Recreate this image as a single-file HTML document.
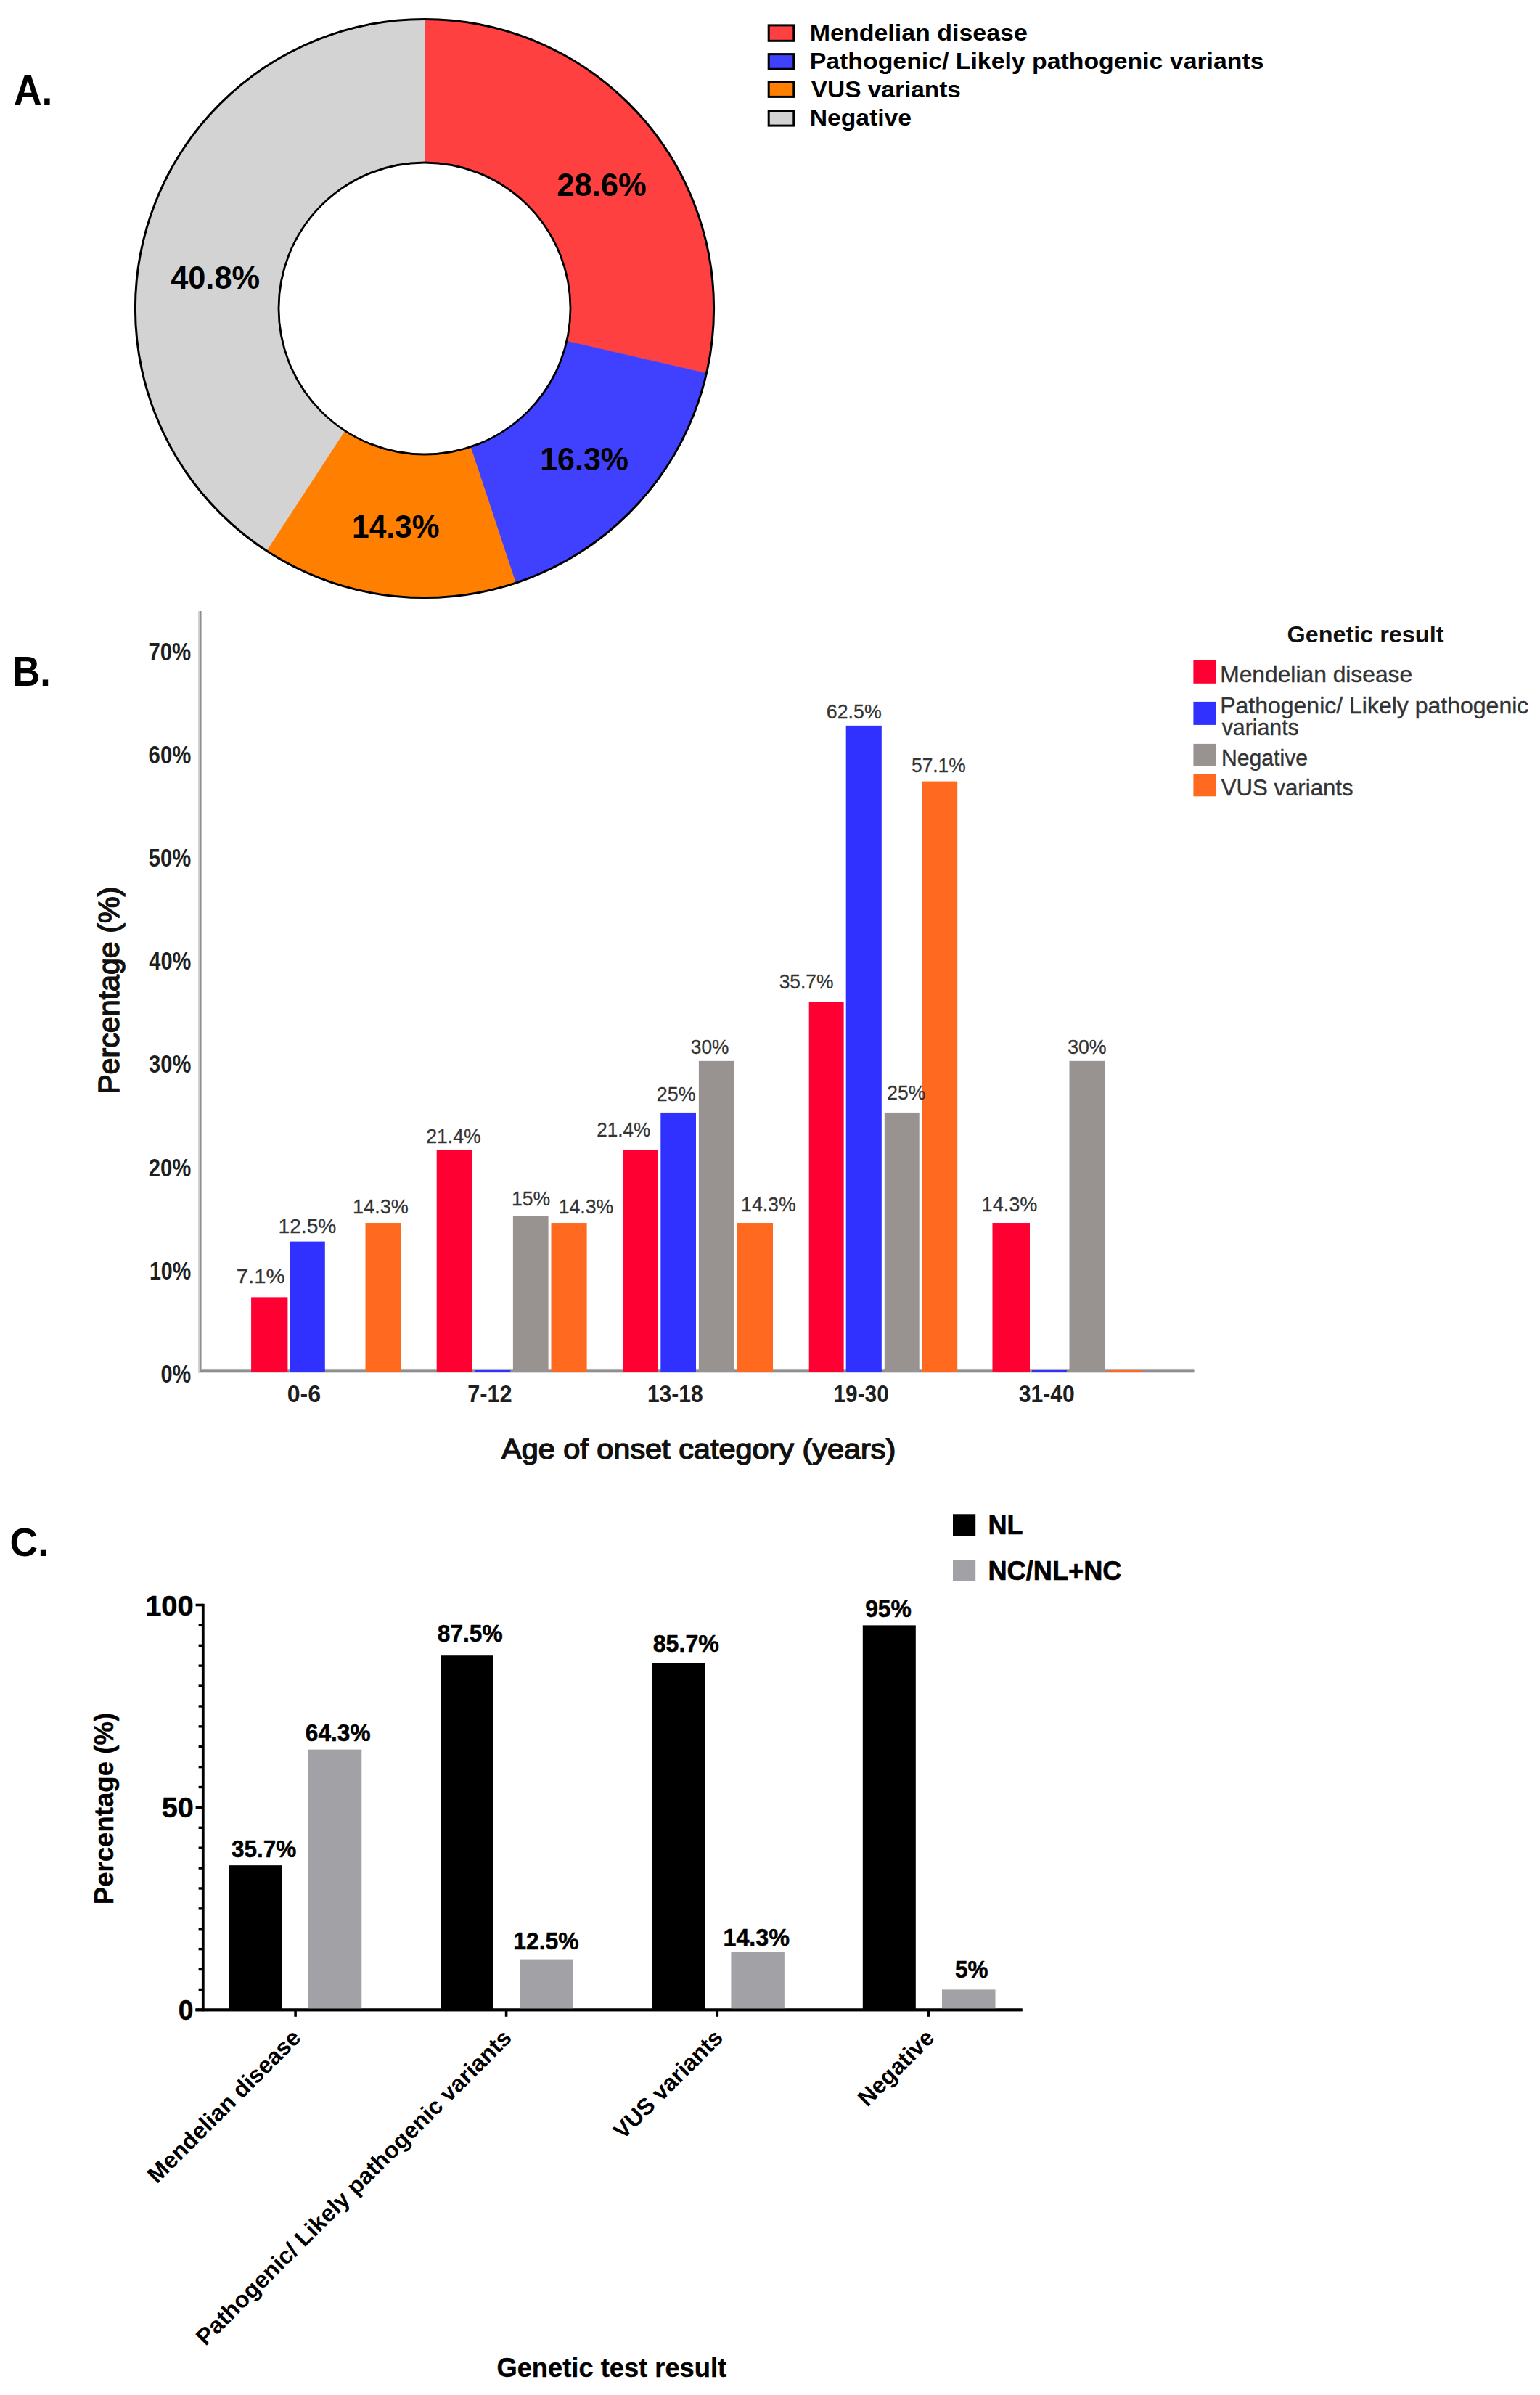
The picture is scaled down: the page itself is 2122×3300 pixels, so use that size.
<!DOCTYPE html>
<html><head><meta charset="utf-8"><title>Figure</title>
<style>
html,body{margin:0;padding:0;background:#fff;}
svg{display:block;font-family:"Liberation Sans",sans-serif;}
</style></head><body>
<svg width="2122" height="3300" viewBox="0 0 2122 3300">
<rect width="2122" height="3300" fill="#fff"/>
<path d="M585.00,26.40 A398.6,398.6 0 0 1 973.45,514.39 L780.88,470.08 A201.0,201.0 0 0 0 585.00,224.00 Z" fill="#FF4040" stroke="#FF4040" stroke-width="0.6"/>
<path d="M973.45,514.39 A398.6,398.6 0 0 1 710.55,803.31 L648.31,615.77 A201.0,201.0 0 0 0 780.88,470.08 Z" fill="#4040FF" stroke="#4040FF" stroke-width="0.6"/>
<path d="M710.55,803.31 A398.6,398.6 0 0 1 367.21,758.84 L475.17,593.34 A201.0,201.0 0 0 0 648.31,615.77 Z" fill="#FF8000" stroke="#FF8000" stroke-width="0.6"/>
<path d="M367.21,758.84 A398.6,398.6 0 0 1 585.00,26.40 L585.00,224.00 A201.0,201.0 0 0 0 475.17,593.34 Z" fill="#D3D3D3" stroke="#D3D3D3" stroke-width="0.6"/>
<circle cx="585.0" cy="425.0" r="398.6" fill="none" stroke="#000" stroke-width="3"/>
<circle cx="585.0" cy="425.0" r="201.0" fill="#fff" stroke="#000" stroke-width="2.8"/>
<text transform="translate(767.28,269.60) scale(0.9984,1)" font-size="43.6" font-weight="700" fill="#000">28.6%</text>
<text transform="translate(744.21,648.30) scale(0.9859,1)" font-size="43.6" font-weight="700" fill="#000">16.3%</text>
<text transform="translate(485.04,741.00) scale(0.9750,1)" font-size="43.6" font-weight="700" fill="#000">14.3%</text>
<text transform="translate(235.15,398.40) scale(0.9946,1)" font-size="43.6" font-weight="700" fill="#000">40.8%</text>
<rect x="1059.20" y="34.90" width="34.60" height="21.40" fill="#FF4040" stroke="#000" stroke-width="3"/>
<rect x="1059.20" y="74.60" width="34.60" height="20.60" fill="#4040FF" stroke="#000" stroke-width="3"/>
<rect x="1059.20" y="112.80" width="34.60" height="20.60" fill="#FF8000" stroke="#000" stroke-width="3"/>
<rect x="1059.20" y="152.60" width="34.60" height="20.50" fill="#D3D3D3" stroke="#000" stroke-width="3"/>
<text transform="translate(1115.71,56.40) scale(1.0719,1)" font-size="31.7" font-weight="700" fill="#000">Mendelian disease</text>
<text transform="translate(1115.72,95.30) scale(1.0676,1)" font-size="31.7" font-weight="700" fill="#000">Pathogenic/ Likely pathogenic variants</text>
<text transform="translate(1117.75,134.30) scale(1.0546,1)" font-size="31.7" font-weight="700" fill="#000">VUS variants</text>
<text transform="translate(1115.73,173.20) scale(1.0625,1)" font-size="31.7" font-weight="700" fill="#000">Negative</text>
<text transform="translate(18.96,143.60) scale(0.9426,1)" font-size="56.7" font-weight="700" fill="#000">A.</text>
<text transform="translate(17.47,945.00) scale(0.9009,1)" font-size="58" font-weight="700" fill="#000">B.</text>
<text transform="translate(13.46,2143.50) scale(0.9564,1)" font-size="56" font-weight="700" fill="#000">C.</text>
<rect x="273.10" y="842.00" width="2.00" height="1049.70" fill="#cdcdcd"/>
<rect x="275.10" y="842.00" width="2.10" height="1048.00" fill="#8e8e8e"/>
<rect x="277.20" y="842.00" width="1.80" height="1046.00" fill="#b8b8b8"/>
<rect x="277.20" y="1885.90" width="1368.30" height="2.10" fill="#b8b8b8"/>
<rect x="275.10" y="1888.00" width="1370.40" height="2.00" fill="#8e8e8e"/>
<rect x="273.10" y="1890.00" width="1372.40" height="1.70" fill="#cdcdcd"/>
<rect x="346.10" y="1787.37" width="50.30" height="103.23" fill="#FF0033"/>
<rect x="399.10" y="1710.61" width="48.70" height="179.99" fill="#3030FF"/>
<rect x="503.50" y="1685.03" width="49.50" height="205.57" fill="#FF6A20"/>
<rect x="601.70" y="1584.10" width="49.10" height="306.50" fill="#FF0033"/>
<rect x="654.70" y="1887.20" width="48.70" height="3.40" fill="#3030FF"/>
<rect x="706.90" y="1675.08" width="48.70" height="215.52" fill="#989291"/>
<rect x="759.50" y="1685.03" width="49.10" height="205.57" fill="#FF6A20"/>
<rect x="858.40" y="1584.10" width="48.00" height="306.50" fill="#FF0033"/>
<rect x="910.30" y="1532.92" width="48.70" height="357.67" fill="#3030FF"/>
<rect x="962.90" y="1461.85" width="48.70" height="428.75" fill="#989291"/>
<rect x="1015.50" y="1685.03" width="49.50" height="205.57" fill="#FF6A20"/>
<rect x="1114.70" y="1380.82" width="47.90" height="509.78" fill="#FF0033"/>
<rect x="1165.70" y="999.86" width="49.10" height="890.74" fill="#3030FF"/>
<rect x="1218.80" y="1532.92" width="47.90" height="357.67" fill="#989291"/>
<rect x="1270.10" y="1076.62" width="49.10" height="813.98" fill="#FF6A20"/>
<rect x="1367.50" y="1685.03" width="51.50" height="205.57" fill="#FF0033"/>
<rect x="1422.00" y="1887.20" width="48.00" height="3.40" fill="#3030FF"/>
<rect x="1473.50" y="1461.85" width="49.40" height="428.75" fill="#989291"/>
<rect x="1525.50" y="1887.20" width="47.20" height="3.40" fill="#FF6A20"/>
<text transform="translate(204.45,909.50) scale(0.8398,1)" font-size="35" font-weight="700" fill="#1f1f1f">70%</text>
<text transform="translate(204.60,1051.70) scale(0.8376,1)" font-size="35" font-weight="700" fill="#1f1f1f">60%</text>
<text transform="translate(204.82,1193.90) scale(0.8344,1)" font-size="35" font-weight="700" fill="#1f1f1f">50%</text>
<text transform="translate(205.27,1336.10) scale(0.8280,1)" font-size="35" font-weight="700" fill="#1f1f1f">40%</text>
<text transform="translate(205.05,1478.30) scale(0.8312,1)" font-size="35" font-weight="700" fill="#1f1f1f">30%</text>
<text transform="translate(204.68,1620.50) scale(0.8365,1)" font-size="35" font-weight="700" fill="#1f1f1f">20%</text>
<text transform="translate(205.91,1762.70) scale(0.8187,1)" font-size="35" font-weight="700" fill="#1f1f1f">10%</text>
<text transform="translate(221.54,1904.90) scale(0.8255,1)" font-size="35" font-weight="700" fill="#1f1f1f">0%</text>
<text transform="translate(164.30,1505.20) rotate(-90) translate(-2.65,0) scale(0.9925,1)" font-size="41.5" font-weight="400" fill="#111" stroke="#111" stroke-width="1.5" stroke-linejoin="round">Percentage (%)</text>
<text transform="translate(691.05,2010.10) scale(1.0487,1)" font-size="39.5" font-weight="400" fill="#111" stroke="#111" stroke-width="1.5" stroke-linejoin="round">Age of onset category (years)</text>
<text transform="translate(395.72,1932.30) scale(0.9446,1)" font-size="34" font-weight="700" fill="#1f1f1f">0-6</text>
<text transform="translate(644.19,1932.30) scale(0.9038,1)" font-size="34" font-weight="700" fill="#1f1f1f">7-12</text>
<text transform="translate(891.92,1932.30) scale(0.8829,1)" font-size="34" font-weight="700" fill="#1f1f1f">13-18</text>
<text transform="translate(1148.54,1932.30) scale(0.8770,1)" font-size="34" font-weight="700" fill="#1f1f1f">19-30</text>
<text transform="translate(1403.72,1931.50) scale(0.8877,1)" font-size="34" font-weight="700" fill="#1f1f1f">31-40</text>
<text transform="translate(325.68,1767.50) scale(1.0630,1)" font-size="27.6" font-weight="400" fill="#333" stroke="#333" stroke-width="0.3" stroke-linejoin="round">7.1%</text>
<text transform="translate(383.54,1699.00) scale(1.0202,1)" font-size="27.6" font-weight="400" fill="#333" stroke="#333" stroke-width="0.3" stroke-linejoin="round">12.5%</text>
<text transform="translate(486.12,1671.70) scale(0.9790,1)" font-size="27.6" font-weight="400" fill="#333" stroke="#333" stroke-width="0.3" stroke-linejoin="round">14.3%</text>
<text transform="translate(587.22,1574.70) scale(0.9649,1)" font-size="27.6" font-weight="400" fill="#333" stroke="#333" stroke-width="0.3" stroke-linejoin="round">21.4%</text>
<text transform="translate(705.06,1661.00) scale(0.9630,1)" font-size="27.6" font-weight="400" fill="#333" stroke="#333" stroke-width="0.3" stroke-linejoin="round">15%</text>
<text transform="translate(769.65,1671.70) scale(0.9644,1)" font-size="27.6" font-weight="400" fill="#333" stroke="#333" stroke-width="0.3" stroke-linejoin="round">14.3%</text>
<text transform="translate(822.25,1566.20) scale(0.9451,1)" font-size="27.6" font-weight="400" fill="#333" stroke="#333" stroke-width="0.3" stroke-linejoin="round">21.4%</text>
<text transform="translate(904.81,1517.00) scale(0.9731,1)" font-size="27.6" font-weight="400" fill="#333" stroke="#333" stroke-width="0.3" stroke-linejoin="round">25%</text>
<text transform="translate(951.86,1452.00) scale(0.9537,1)" font-size="27.6" font-weight="400" fill="#333" stroke="#333" stroke-width="0.3" stroke-linejoin="round">30%</text>
<text transform="translate(1021.05,1669.00) scale(0.9671,1)" font-size="27.6" font-weight="400" fill="#333" stroke="#333" stroke-width="0.3" stroke-linejoin="round">14.3%</text>
<text transform="translate(1073.66,1362.00) scale(0.9566,1)" font-size="27.6" font-weight="400" fill="#333" stroke="#333" stroke-width="0.3" stroke-linejoin="round">35.7%</text>
<text transform="translate(1138.81,989.90) scale(0.9701,1)" font-size="27.6" font-weight="400" fill="#333" stroke="#333" stroke-width="0.3" stroke-linejoin="round">62.5%</text>
<text transform="translate(1222.33,1515.20) scale(0.9580,1)" font-size="27.6" font-weight="400" fill="#333" stroke="#333" stroke-width="0.3" stroke-linejoin="round">25%</text>
<text transform="translate(1256.00,1063.90) scale(0.9548,1)" font-size="27.6" font-weight="400" fill="#333" stroke="#333" stroke-width="0.3" stroke-linejoin="round">57.1%</text>
<text transform="translate(1352.62,1668.80) scale(0.9804,1)" font-size="27.6" font-weight="400" fill="#333" stroke="#333" stroke-width="0.3" stroke-linejoin="round">14.3%</text>
<text transform="translate(1471.15,1452.00) scale(0.9687,1)" font-size="27.6" font-weight="400" fill="#333" stroke="#333" stroke-width="0.3" stroke-linejoin="round">30%</text>
<text transform="translate(1773.50,884.80) scale(1.0280,1)" font-size="31.5" font-weight="700" fill="#111">Genetic result</text>
<rect x="1644.40" y="909.90" width="31.00" height="31.90" fill="#FF0033"/>
<rect x="1644.40" y="966.90" width="31.00" height="32.00" fill="#3030FF"/>
<rect x="1644.40" y="1024.90" width="31.00" height="30.70" fill="#989291"/>
<rect x="1644.40" y="1066.30" width="31.00" height="31.00" fill="#FF6A20"/>
<text transform="translate(1681.18,940.20) scale(1.0057,1)" font-size="31.6" font-weight="400" fill="#333" stroke="#333" stroke-width="0.4" stroke-linejoin="round">Mendelian disease</text>
<text transform="translate(1681.16,982.60) scale(1.0127,1)" font-size="31.6" font-weight="400" fill="#333" stroke="#333" stroke-width="0.4" stroke-linejoin="round">Pathogenic/ Likely pathogenic</text>
<text transform="translate(1683.72,1013.20) scale(0.9580,1)" font-size="31.6" font-weight="400" fill="#333" stroke="#333" stroke-width="0.4" stroke-linejoin="round">variants</text>
<text transform="translate(1682.91,1054.90) scale(0.9552,1)" font-size="31.6" font-weight="400" fill="#333" stroke="#333" stroke-width="0.4" stroke-linejoin="round">Negative</text>
<text transform="translate(1682.64,1095.70) scale(0.9873,1)" font-size="31.6" font-weight="400" fill="#333" stroke="#333" stroke-width="0.4" stroke-linejoin="round">VUS variants</text>
<line x1="279.80" y1="2209.70" x2="279.80" y2="2771.20" stroke="#000" stroke-width="3.8"/>
<line x1="269.60" y1="2769.30" x2="1408.60" y2="2769.30" stroke="#000" stroke-width="3.8"/>
<line x1="269.60" y1="2769.30" x2="279.80" y2="2769.30" stroke="#000" stroke-width="3.6"/>
<line x1="273.60" y1="2741.41" x2="279.80" y2="2741.41" stroke="#000" stroke-width="3.4"/>
<line x1="273.60" y1="2713.52" x2="279.80" y2="2713.52" stroke="#000" stroke-width="3.4"/>
<line x1="273.60" y1="2685.63" x2="279.80" y2="2685.63" stroke="#000" stroke-width="3.4"/>
<line x1="273.60" y1="2657.74" x2="279.80" y2="2657.74" stroke="#000" stroke-width="3.4"/>
<line x1="273.60" y1="2629.85" x2="279.80" y2="2629.85" stroke="#000" stroke-width="3.4"/>
<line x1="273.60" y1="2601.96" x2="279.80" y2="2601.96" stroke="#000" stroke-width="3.4"/>
<line x1="273.60" y1="2574.07" x2="279.80" y2="2574.07" stroke="#000" stroke-width="3.4"/>
<line x1="273.60" y1="2546.18" x2="279.80" y2="2546.18" stroke="#000" stroke-width="3.4"/>
<line x1="273.60" y1="2518.29" x2="279.80" y2="2518.29" stroke="#000" stroke-width="3.4"/>
<line x1="269.60" y1="2490.40" x2="279.80" y2="2490.40" stroke="#000" stroke-width="3.6"/>
<line x1="273.60" y1="2462.51" x2="279.80" y2="2462.51" stroke="#000" stroke-width="3.4"/>
<line x1="273.60" y1="2434.62" x2="279.80" y2="2434.62" stroke="#000" stroke-width="3.4"/>
<line x1="273.60" y1="2406.73" x2="279.80" y2="2406.73" stroke="#000" stroke-width="3.4"/>
<line x1="273.60" y1="2378.84" x2="279.80" y2="2378.84" stroke="#000" stroke-width="3.4"/>
<line x1="273.60" y1="2350.95" x2="279.80" y2="2350.95" stroke="#000" stroke-width="3.4"/>
<line x1="273.60" y1="2323.06" x2="279.80" y2="2323.06" stroke="#000" stroke-width="3.4"/>
<line x1="273.60" y1="2295.17" x2="279.80" y2="2295.17" stroke="#000" stroke-width="3.4"/>
<line x1="273.60" y1="2267.28" x2="279.80" y2="2267.28" stroke="#000" stroke-width="3.4"/>
<line x1="273.60" y1="2239.39" x2="279.80" y2="2239.39" stroke="#000" stroke-width="3.4"/>
<line x1="269.60" y1="2211.50" x2="279.80" y2="2211.50" stroke="#000" stroke-width="3.6"/>
<line x1="407.10" y1="2769.30" x2="407.10" y2="2778.80" stroke="#000" stroke-width="3.6"/>
<line x1="697.60" y1="2769.30" x2="697.60" y2="2778.80" stroke="#000" stroke-width="3.6"/>
<line x1="988.30" y1="2769.30" x2="988.30" y2="2778.80" stroke="#000" stroke-width="3.6"/>
<line x1="1279.50" y1="2769.30" x2="1279.50" y2="2778.80" stroke="#000" stroke-width="3.6"/>
<rect x="315.60" y="2570.17" width="73.00" height="199.13" fill="#000"/>
<rect x="424.80" y="2410.63" width="73.50" height="358.67" fill="#A2A1A5"/>
<rect x="607.00" y="2281.22" width="73.00" height="488.08" fill="#000"/>
<rect x="716.20" y="2699.58" width="73.50" height="69.72" fill="#A2A1A5"/>
<rect x="898.20" y="2291.27" width="73.00" height="478.03" fill="#000"/>
<rect x="1007.40" y="2689.53" width="73.50" height="79.77" fill="#A2A1A5"/>
<rect x="1188.80" y="2239.39" width="73.00" height="529.91" fill="#000"/>
<rect x="1298.00" y="2741.41" width="73.50" height="27.89" fill="#A2A1A5"/>
<line x1="269.60" y1="2769.30" x2="1408.60" y2="2769.30" stroke="#000" stroke-width="3.8"/>
<text transform="translate(319.04,2558.70) scale(0.9752,1)" font-size="32.3" font-weight="700" fill="#000" stroke="#000" stroke-width="0.5" stroke-linejoin="round">35.7%</text>
<text transform="translate(420.86,2398.70) scale(0.9793,1)" font-size="32.3" font-weight="700" fill="#000" stroke="#000" stroke-width="0.5" stroke-linejoin="round">64.3%</text>
<text transform="translate(602.82,2261.60) scale(0.9798,1)" font-size="32.3" font-weight="700" fill="#000" stroke="#000" stroke-width="0.5" stroke-linejoin="round">87.5%</text>
<text transform="translate(707.26,2686.00) scale(0.9860,1)" font-size="32.3" font-weight="700" fill="#000" stroke="#000" stroke-width="0.5" stroke-linejoin="round">12.5%</text>
<text transform="translate(899.70,2275.60) scale(0.9965,1)" font-size="32.3" font-weight="700" fill="#000" stroke="#000" stroke-width="0.5" stroke-linejoin="round">85.7%</text>
<text transform="translate(996.43,2680.80) scale(1.0006,1)" font-size="32.3" font-weight="700" fill="#000" stroke="#000" stroke-width="0.5" stroke-linejoin="round">14.3%</text>
<text transform="translate(1192.14,2227.80) scale(0.9862,1)" font-size="32.3" font-weight="700" fill="#000" stroke="#000" stroke-width="0.5" stroke-linejoin="round">95%</text>
<text transform="translate(1315.91,2724.90) scale(0.9751,1)" font-size="32.3" font-weight="700" fill="#000" stroke="#000" stroke-width="0.5" stroke-linejoin="round">5%</text>
<text transform="translate(200.15,2226.20) scale(1.0373,1)" font-size="38.5" font-weight="700" fill="#000" stroke="#000" stroke-width="0.5" stroke-linejoin="round">100</text>
<text transform="translate(222.66,2504.30) scale(1.0315,1)" font-size="38.5" font-weight="700" fill="#000" stroke="#000" stroke-width="0.5" stroke-linejoin="round">50</text>
<text transform="translate(245.76,2782.50) scale(0.9679,1)" font-size="38.5" font-weight="700" fill="#000" stroke="#000" stroke-width="0.5" stroke-linejoin="round">0</text>
<text transform="translate(155.80,2622.00) rotate(-90) translate(-2.27,0) scale(0.9766,1)" font-size="37.5" font-weight="700" fill="#000" stroke="#000" stroke-width="0.4" stroke-linejoin="round">Percentage (%)</text>
<rect x="1313.00" y="2086.30" width="31.20" height="29.80" fill="#000"/>
<rect x="1313.00" y="2149.20" width="31.20" height="29.10" fill="#A2A1A5"/>
<text transform="translate(1361.46,2114.20) scale(0.9630,1)" font-size="37.5" font-weight="700" fill="#000" stroke="#000" stroke-width="0.6" stroke-linejoin="round">NL</text>
<text transform="translate(1361.46,2176.90) scale(0.9651,1)" font-size="37.5" font-weight="700" fill="#000" stroke="#000" stroke-width="0.6" stroke-linejoin="round">NC/NL+NC</text>
<text transform="translate(684.45,3275.30) scale(0.9814,1)" font-size="37" font-weight="700" fill="#000" stroke="#000" stroke-width="0.4" stroke-linejoin="round">Genetic test result</text>
<text transform="translate(415.50,2810.50) rotate(-45) translate(-281.68,0) scale(1.0000,1)" font-size="32" font-weight="700" fill="#000">Mendelian disease</text>
<text transform="translate(706.00,2810.50) rotate(-45) translate(-597.97,0) scale(1.0120,1)" font-size="32" font-weight="700" fill="#000">Pathogenic/ Likely pathogenic variants</text>
<text transform="translate(997.00,2810.50) rotate(-45) translate(-196.08,0) scale(1.0000,1)" font-size="32" font-weight="700" fill="#000">VUS variants</text>
<text transform="translate(1288.50,2810.50) rotate(-45) translate(-132.32,0) scale(1.0000,1)" font-size="32" font-weight="700" fill="#000">Negative</text>
</svg>
</body></html>
